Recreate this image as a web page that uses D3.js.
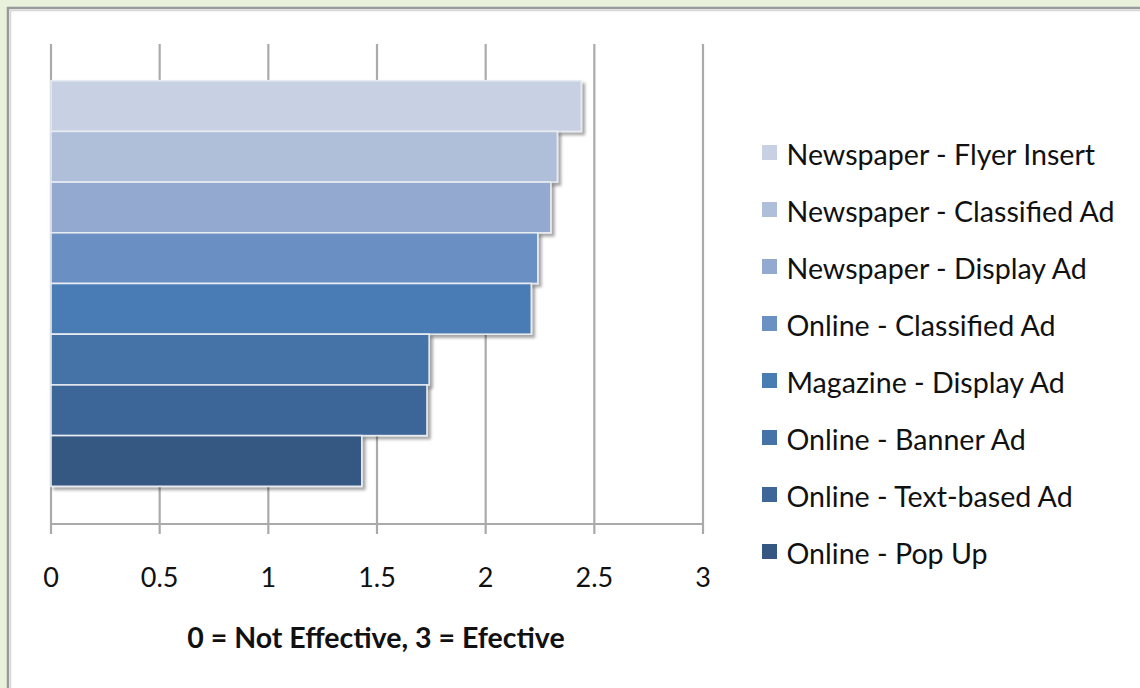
<!DOCTYPE html>
<html>
<head>
<meta charset="utf-8">
<script src="https://cdn.jsdelivr.net/npm/d3@7"></script>
<style>
  html, body { margin: 0; padding: 0; background: #e9f0dc; }
  svg { display: block; }
</style>
</head>
<body>
<svg id="chart" width="1140" height="688"></svg>
<script>
// Ad channel effectiveness ratings (0 = not effective, 3 = effective)
const categories = [
  "Newspaper - Flyer Insert",
  "Newspaper - Classified Ad",
  "Newspaper - Display Ad",
  "Online - Classified Ad",
  "Magazine - Display Ad",
  "Online - Banner Ad",
  "Online - Text-based Ad",
  "Online - Pop Up"
];
const ratings = [2.44, 2.33, 2.30, 2.24, 2.21, 1.74, 1.73, 1.43];
const barColors = ["#c8d1e3", "#afbfda", "#94a9cf", "#6b90c3", "#4a7cb4", "#4572a7", "#3e6698", "#355883"];
const tickValues = [0, 0.5, 1, 1.5, 2, 2.5, 3];
const axisTitle = "0 = Not Effective, 3 = Efective";

const svg = d3.select("#chart");
const font = "Lato, 'Open Sans', sans-serif";

// soft drop shadow under each bar
const defs = svg.append("defs");
const shadow = defs.append("filter").attr("id", "barShadow")
  .attr("x", "-5%").attr("y", "-20%").attr("width", "115%").attr("height", "150%");
shadow.append("feDropShadow")
  .attr("dx", 3).attr("dy", 3).attr("stdDeviation", 1.6)
  .attr("flood-color", "#000").attr("flood-opacity", 0.35);

// white chart panel with a grey frame
svg.append("rect").attr("x", 8).attr("y", 8).attr("width", 1200).attr("height", 760)
  .attr("fill", "#ffffff").attr("stroke", "#9a9a9a").attr("stroke-width", 2.5);
svg.append("rect").attr("x", 10.5).attr("y", 10.5).attr("width", 1200).attr("height", 760)
  .attr("fill", "none").attr("stroke", "#d6d6d6").attr("stroke-width", 1.5);

const x = d3.scaleLinear().domain([0, 3]).range([51, 703]);
const y = d3.scaleBand().domain(categories).range([80.7, 486.3]).padding(0);
const gridTop = 44, baseY = 524, tickBottom = 534;

// vertical gridlines
svg.append("g").selectAll("line").data(tickValues).join("line")
  .attr("x1", d => x(d)).attr("x2", d => x(d))
  .attr("y1", gridTop).attr("y2", tickBottom)
  .attr("stroke", "#aaaaaa").attr("stroke-width", 2.2);

// baseline axis
svg.append("line").attr("x1", x(0)).attr("x2", x(3)).attr("y1", baseY).attr("y2", baseY)
  .attr("stroke", "#aaaaaa").attr("stroke-width", 2.2);

// bars
svg.append("g").selectAll("rect").data(categories).join("rect")
  .attr("x", x(0))
  .attr("y", d => y(d))
  .attr("width", (d, i) => x(ratings[i]) - x(0))
  .attr("height", y.bandwidth())
  .attr("fill", (d, i) => barColors[i])
  .attr("stroke", "#e6eaf1").attr("stroke-width", 1.6)
  .attr("filter", "url(#barShadow)");

// tick labels
svg.append("g").selectAll("text").data(tickValues).join("text")
  .attr("x", d => x(d)).attr("y", 587)
  .attr("text-anchor", "middle")
  .attr("font-family", font).attr("font-size", 27).attr("fill", "#111")
  .text(d => d);

// axis title
svg.append("text").attr("x", 376).attr("y", 648)
  .attr("text-anchor", "middle")
  .attr("font-family", font).attr("font-size", 28.5).attr("font-weight", "bold").attr("fill", "#111")
  .text(axisTitle);

// legend
const legend = svg.append("g").selectAll("g").data(categories).join("g")
  .attr("transform", (d, i) => `translate(762, ${145 + i * 57})`);
legend.append("rect").attr("x", 0).attr("y", 0).attr("width", 15).attr("height", 15)
  .attr("fill", (d, i) => barColors[i]);
legend.append("text").attr("x", 24.5).attr("y", 19.5)
  .attr("font-family", font).attr("font-size", 28.6).attr("fill", "#111")
  .text(d => d);
</script>
</body>
</html>
